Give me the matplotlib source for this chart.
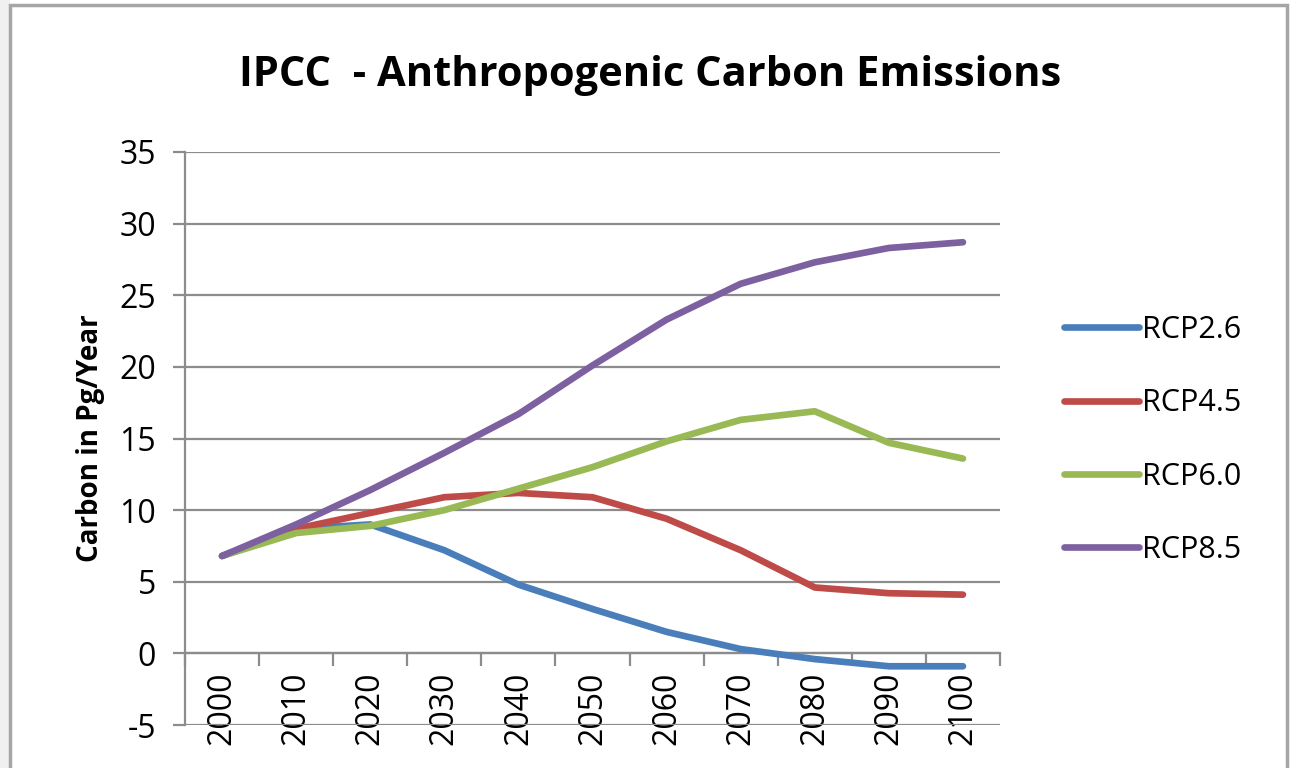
import numpy as np
import matplotlib.pyplot as plt
from matplotlib.patches import Rectangle

plt.rcParams['font.family'] = ['Open Sans', 'DejaVu Sans']
plt.rcParams['axes.unicode_minus'] = False

# Data
years = ['2000', '2010', '2020', '2030', '2040', '2050', '2060', '2070', '2080', '2090', '2100']
rcp26 = [6.8, 8.7, 9.0, 7.2, 4.8, 3.1, 1.5, 0.3, -0.4, -0.9, -0.9]
rcp45 = [6.8, 8.7, 9.8, 10.9, 11.2, 10.9, 9.4, 7.2, 4.6, 4.2, 4.1]
rcp60 = [6.8, 8.4, 8.9, 10.0, 11.5, 13.0, 14.8, 16.3, 16.9, 14.7, 13.6]
rcp85 = [6.8, 9.0, 11.4, 14.0, 16.7, 20.1, 23.3, 25.8, 27.3, 28.3, 28.7]

series = [('RCP2.6', rcp26, '#4A7EBB'),
          ('RCP4.5', rcp45, '#BE4B48'),
          ('RCP6.0', rcp60, '#98B954'),
          ('RCP8.5', rcp85, '#7D60A0')]

fig = plt.figure(figsize=(12.9, 7.68), dpi=100)

# outer chart frame like the Excel chart area (behind the axes)
fig.patches.append(Rectangle((0, 0), 10 / 1290, 1, transform=fig.transFigure,
                             facecolor='#f0f0f0', edgecolor='none', zorder=-2))
fig.patches.append(Rectangle((10 / 1290, -0.05), 1277 / 1290, 1.05 - 5 / 768,
                             transform=fig.transFigure, facecolor='white',
                             edgecolor='#a6a6a6', linewidth=2.5, zorder=-1))

ax = fig.add_axes([185 / 1290, 1 - 725 / 768, 815 / 1290, 573 / 768])
ax.patch.set_alpha(0)
x = np.arange(len(years))

for name, vals, col in series:
    ax.plot(x, vals, color=col, linewidth=4.8, solid_capstyle='round',
            solid_joinstyle='round', label=name, zorder=3)

ax.set_xlim(-0.5, len(years) - 0.5)
ax.set_ylim(-5, 35)
ax.set_yticks(range(-5, 36, 5))
ax.yaxis.grid(True, color='#8c8c8c', linewidth=1.6)
ax.set_axisbelow(True)

for s in ['top', 'right']:
    ax.spines[s].set_visible(False)
ax.spines['bottom'].set_position(('data', 0))
ax.spines['bottom'].set_color('#8c8c8c')
ax.spines['bottom'].set_linewidth(1.6)
ax.spines['left'].set_color('#8c8c8c')
ax.spines['left'].set_linewidth(1.6)

ax.set_xticks(x)
ax.set_xticklabels(years, rotation=90, fontsize=23)
ax.set_xticks(np.arange(-0.5, len(years), 1), minor=True)
ax.tick_params(axis='x', which='major', length=0, pad=13)
ax.tick_params(axis='x', which='minor', length=9, width=1.6, color='#8c8c8c', direction='out')
ax.tick_params(axis='y', length=9, width=1.6, color='#8c8c8c', labelsize=23, pad=12)

ax.set_ylabel('Carbon in Pg/Year', fontsize=20, fontweight='bold', labelpad=10)
fig.text(650 / 1290, 1 - 75 / 768, 'IPCC  - Anthropogenic Carbon Emissions',
         ha='center', va='center', fontsize=30, fontweight='bold')

leg = ax.legend(loc='center left', bbox_to_anchor=(1052 / 1290, 1 - 440 / 768),
                bbox_transform=fig.transFigure, frameon=False, fontsize=22,
                handlelength=2.45, handletextpad=0.1, labelspacing=1.42,
                borderaxespad=0)

fig.savefig('out.png', dpi=100)
